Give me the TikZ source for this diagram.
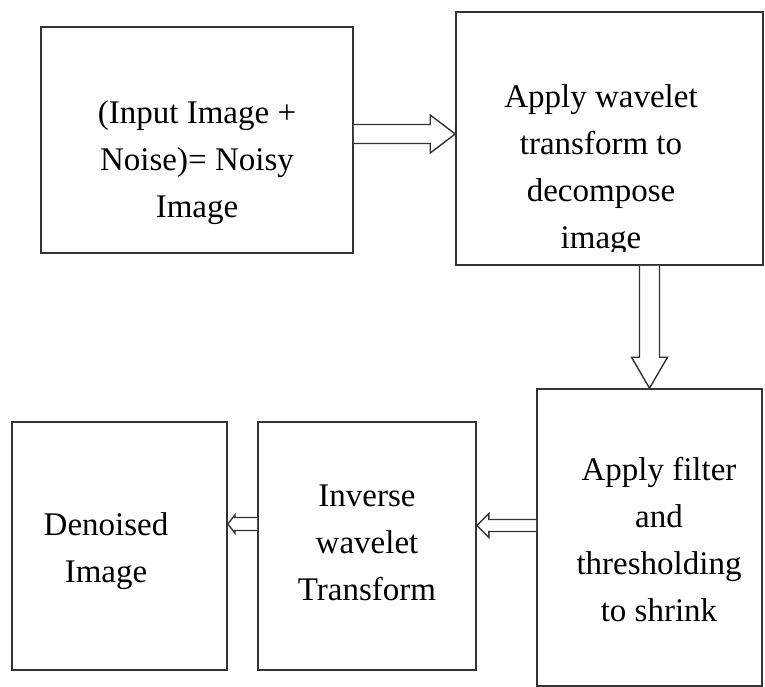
\documentclass[tikz,border=0pt]{standalone}
\usepackage{fontspec}
\setmainfont{Liberation Serif}
\usepackage{tikz}
\usetikzlibrary{positioning, calc}

\tikzset{
  box/.style={draw=black!80, line width=1.6pt, inner sep=0pt},
  txt/.style={align=center, inner sep=0pt, font=\fontsize{33}{47}\selectfont},
  hollow/.style={draw=black!80, fill=white, line width=1.4pt, line join=miter}
}

% tail, tip, shaft half width, head half width, head length
\newcommand{\blockarrow}[5]{%
  \coordinate (hb) at ($(#2)!#5!(#1)$);
  \draw[hollow] ($(#1)!#3!90:(#2)$) -- ($(hb)!#3!90:(#2)$) -- ($(hb)!#4!90:(#2)$) -- (#2)
    -- ($(hb)!#4!-90:(#2)$) -- ($(hb)!#3!-90:(#2)$) -- ($(#1)!#3!-90:(#2)$);}

\begin{document}
\begin{tikzpicture}[x=1pt, y=-1pt]
  \useasboundingbox (0,0) rectangle (765,687);

  % boxes
  \node[box, minimum width=312pt, minimum height=226pt] (b1) at (197, 140) {};
  \node[box, minimum width=307pt, minimum height=253pt] (b2) at (609.5, 138.5) {};
  \node[box, minimum width=225pt, minimum height=297pt] (b3) at (649.5, 537.5) {};
  \node[box, minimum width=218pt, minimum height=248pt] (b4) at (367, 546) {};
  \node[box, minimum width=215pt, minimum height=248pt] (b5) at (119.5, 546) {};

  % texts
  \node[txt] (t1) at ($(b1.center)+(0,23)$) {(Input Image +\\Noise)= Noisy\\Image};
  \begin{scope}
    \clip (b2.north west) rectangle ($(b2.south east)+(0,-14)$);
    \node[txt] (t2) at ($(b2.center)+(-8.5,31.5)$) {Apply wavelet\\transform to\\decompose\\image};
  \end{scope}
  \node[txt] (t3) at ($(b3.center)+(9.5,2.5)$) {Apply filter\\and\\thresholding\\to shrink};
  \node[txt] (t4) at ($(b4.center)+(0,-3)$) {Inverse\\wavelet\\Transform};
  \node[txt] (t5) at ($(b5.center)+(-13.5,5)$) {Denoised\\Image};

  % arrows
  \coordinate (a1) at ($(b1.east)+(0,-6)$);
  \blockarrow{a1}{b2.west |- a1}{9.5pt}{19pt}{25pt}
  \coordinate (a2) at (b3.north |- b2.south);
  \blockarrow{a2}{b3.north}{10pt}{18pt}{31pt}
  \coordinate (a3) at ($(b3.west)+(0,-12)$);
  \blockarrow{a3}{b4.east |- a3}{6pt}{12pt}{12pt}
  \coordinate (a4) at ($(b4.west)+(0,-22)$);
  \blockarrow{a4}{b5.east |- a4}{6.5pt}{9pt}{7pt}
\end{tikzpicture}
\end{document}
